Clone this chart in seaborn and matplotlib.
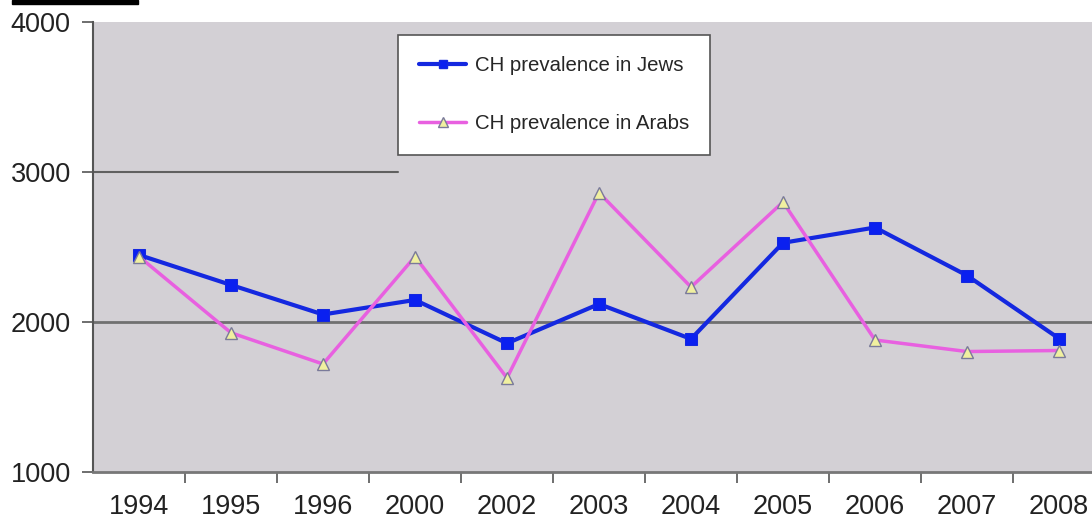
import matplotlib
matplotlib.use("Agg")
import matplotlib.pyplot as plt
import matplotlib.patches as mpatches
from matplotlib.lines import Line2D
import seaborn as sns
import pandas as pd
import numpy as np

years = ["1994", "1995", "1996", "2000", "2002", "2003", "2004", "2005", "2006", "2007", "2008"]
jews = [2447, 2247, 2050, 2147, 1858, 2120, 1887, 2528, 2630, 2310, 1890]
arabs = [2436, 1928, 1720, 2436, 1627, 2862, 2233, 2800, 1880, 1803, 1810]
yticks = [1000, 2000, 3000, 4000]
labels = ["CH prevalence in Jews", "CH prevalence in Arabs"]

sns.set_theme(style="white")
plt.rcParams["font.family"] = ["Liberation Sans", "DejaVu Sans"]

fig = plt.figure(figsize=(10.92, 5.20), dpi=100)
ax = fig.add_axes([93/1092, 1 - 472/520, 1012/1092, 450/520])
ax.set_facecolor("#d3d0d5")

df = pd.DataFrame({"year": years, "Jews": jews, "Arabs": arabs})
df["pos"] = np.arange(len(years))

blue = "#1428e0"
pink = "#e860e0"

sns.lineplot(data=df, x="pos", y="Jews", ax=ax, color=blue, lw=3,
             marker="s", markersize=8, markerfacecolor="#0a20f0",
             markeredgecolor=blue, zorder=4)
sns.lineplot(data=df, x="pos", y="Arabs", ax=ax, color=pink, lw=2.5,
             marker="^", markersize=9, markerfacecolor="#f0f0a0",
             markeredgecolor="#7a7a9a", markeredgewidth=1, zorder=5)

ax.set_xlim(-0.5, len(years) - 0.5)
ax.set_ylim(1000, 4000)
ax.set_xlabel("")
ax.set_ylabel("")

# gridlines
ax.axhline(2000, color="#707070", lw=2, zorder=1)
ax.axhline(3000, xmax=0.301, color="#606060", lw=1.5, zorder=1)

ax.set_xticks(np.arange(len(years)))
ax.set_xticklabels(years, fontsize=19.5, color="#222222")
ax.set_xticks(np.arange(len(years)) + 0.5, minor=True)
ax.tick_params(axis="x", which="major", length=0, pad=16)
ax.tick_params(axis="x", which="minor", length=8, width=1.2, color="#555555", bottom=True)
ax.set_yticks(yticks)
ax.set_yticklabels([str(v) for v in yticks], fontsize=19.5, color="#222222")
ax.tick_params(axis="y", length=8, width=1.2, color="#555555", left=True, pad=8)

for side in ["top", "right"]:
    ax.spines[side].set_visible(False)
ax.spines["left"].set_color("#555555")
ax.spines["left"].set_linewidth(1.5)
ax.spines["bottom"].set_color("#777777")
ax.spines["bottom"].set_linewidth(2)

handles = [
    Line2D([], [], color=blue, lw=3, marker="s", markersize=6,
           markerfacecolor="#0a20f0", markeredgecolor=blue),
    Line2D([], [], color=pink, lw=2.5, marker="^", markersize=7,
           markerfacecolor="#f0f0a0", markeredgecolor="#7a7a9a"),
]
leg = ax.legend(handles, labels, loc="upper left",
                bbox_to_anchor=((398 - 93) / 1012, 1 - (35 - 22) / 450),
                fontsize=14.7, frameon=True, fancybox=False,
                labelspacing=1.9, borderpad=1.05, handlelength=2.3,
                handletextpad=0.4, borderaxespad=0)
leg.get_frame().set_edgecolor("#555555")
leg.get_frame().set_linewidth(1.2)
leg.get_frame().set_facecolor("white")
leg.get_frame().set_alpha(1)

# black bar at top-left
fig.patches.append(mpatches.Rectangle((12/1092, 1 - 4/520), 126/1092, 4/520,
                                      transform=fig.transFigure, color="black"))

fig.savefig("out.png", dpi=100)
